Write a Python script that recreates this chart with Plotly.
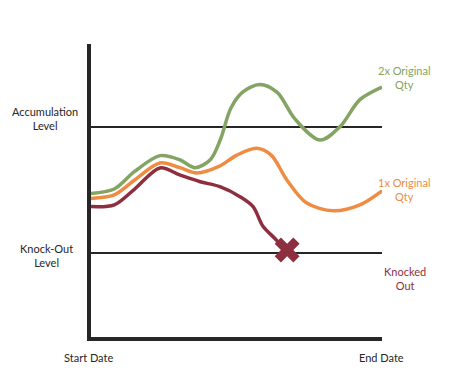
import plotly.graph_objects as go

# Data (x: 0 = start date, 100 = end date; y: price level 0-100)
green_x = [0, 8, 15, 23.7, 30.5, 35.7, 41, 44.5, 48, 52, 58, 64, 70, 78.7, 85.6, 92.4, 100]
green_y = [49.0, 50.5, 56.5, 61.9, 60.5, 57.8, 60.5, 67.5, 78.0, 83.5, 86.2, 83.5, 74.5, 67.2, 71.8, 81.0, 85.3]

orange_x = [0, 8, 15, 23.7, 30.5, 36.3, 44, 50, 56.9, 62, 67.3, 74, 83.2, 92.4, 100]
orange_y = [47.3, 48.5, 53.6, 59.4, 57.8, 56.0, 58.2, 62.0, 64.4, 62.0, 53.6, 45.8, 43.1, 45.1, 49.9]

red_x = [0, 8, 15, 23.7, 30.5, 37.5, 44.3, 51.2, 55.7, 59.1, 63.8, 67.3]
red_y = [44.5, 45.1, 50.5, 57.7, 55.3, 53.0, 51.3, 47.9, 44.5, 37.8, 33.0, 28.6]

knock_x = [67.4]
knock_y = [29.7]

accumulation_level = 71.7
knockout_level = 28.7
level_x = [0, 100]

GREEN = "#83A462"
ORANGE = "#EE8C44"
RED = "#8E2F3F"
DARK = "#262626"
FONT = "Lato"

fig = go.Figure()

fig.add_trace(go.Scatter(x=level_x, y=[accumulation_level] * 2, mode="lines",
                         line=dict(color=DARK, width=2), hoverinfo="skip"))
fig.add_trace(go.Scatter(x=level_x, y=[knockout_level] * 2, mode="lines",
                         line=dict(color=DARK, width=2), hoverinfo="skip"))

fig.add_trace(go.Scatter(x=green_x, y=green_y, mode="lines",
                         line=dict(color=GREEN, width=3.5, shape="spline", smoothing=0.9)))
fig.add_trace(go.Scatter(x=orange_x, y=orange_y, mode="lines",
                         line=dict(color=ORANGE, width=3.5, shape="spline", smoothing=0.9)))
fig.add_trace(go.Scatter(x=red_x, y=red_y, mode="lines",
                         line=dict(color=RED, width=3.5, shape="spline", smoothing=0.9)))
fig.add_trace(go.Scatter(x=knock_x, y=knock_y, mode="markers",
                         marker=dict(symbol="x", size=22, color=RED, line=dict(width=0))))

annots = [
    dict(x=-15.8, y=71.7 + 3.0, text="Accumulation<br>Level", color=DARK),
    dict(x=-15.2, y=28.7 - 1.0, text="Knock-Out<br>Level", color=DARK),
    dict(x=107.8, y=88.5, text="2x Original<br>Qty", color=GREEN),
    dict(x=107.8, y=50.2, text="1x Original<br>Qty", color=ORANGE),
    dict(x=107.8, y=20.0, text="Knocked<br>Out", color=RED),
    dict(x=-1.0, y=-7.0, text="Start Date", color=DARK),
    dict(x=99.7, y=-7.0, text="End Date", color=DARK),
]
for a in annots:
    fig.add_annotation(x=a["x"] / 100, y=a["y"] / 100, text=a["text"], showarrow=False,
                       xanchor="center", yanchor="middle",
                       font=dict(family=FONT, size=11, color=a["color"]),
                       xref="paper", yref="paper", align="center")

fig.update_layout(
    width=450, height=376,
    margin=dict(l=83, r=76, t=36, b=47),
    paper_bgcolor="white", plot_bgcolor="white",
    showlegend=False,
    xaxis=dict(range=[0, 100], showgrid=False, zeroline=False, showticklabels=False,
               ticks="", showline=True, linewidth=4, linecolor=DARK),
    yaxis=dict(range=[0, 100], showgrid=False, zeroline=False, showticklabels=False,
               ticks="", showline=True, linewidth=4, linecolor=DARK),
)

fig.write_html("out.html")
